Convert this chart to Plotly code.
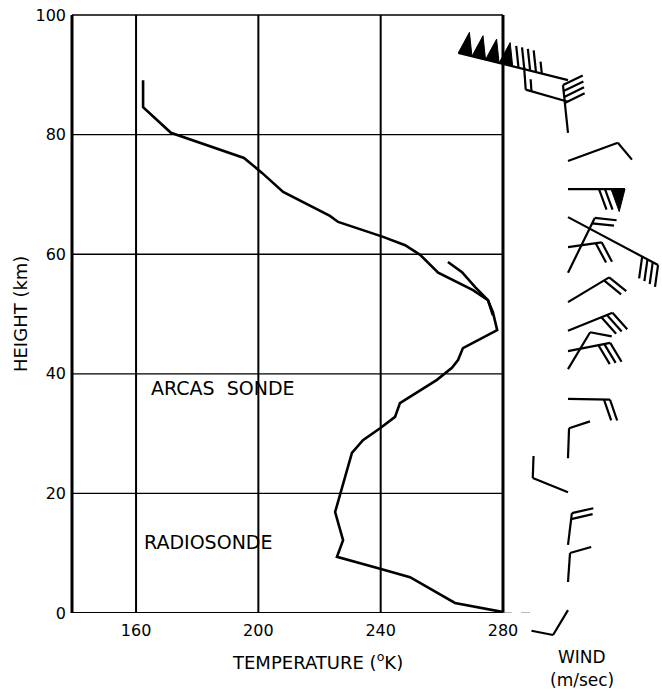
import math
import plotly.graph_objects as go

# temperature profile (ARCAS sonde above, radiosonde below)
height_km = [89.1, 84.6, 80.3, 78.6, 76.1, 73.6, 70.4, 66.4, 65.4, 62.9, 61.5, 59.9,
             56.9, 54.0, 52.3, 50.3, 47.3, 44.3, 42.3, 41.0, 39.0, 35.1, 32.8, 30.9,
             28.9, 26.8, 16.9, 12.2, 9.4, 7.4, 6.0, 1.7, 0.2]
temp_k = [162.3, 162.3, 171.4, 180.9, 195.3, 201.2, 208.1, 223.4, 226.1, 240.8, 248.0, 252.9,
          258.8, 270.2, 275.1, 276.7, 278.1, 266.9, 265.3, 263.3, 258.4, 246.3, 244.7, 239.8,
          234.2, 230.6, 225.1, 227.7, 225.7, 239.8, 249.6, 264.3, 279.7]

# short second trace near the stratopause
alt_height_km = [58.7, 57.0, 54.5, 52.3, 49.8]
alt_temp_k = [262.0, 266.6, 270.9, 275.1, 276.7]

# wind barbs: height, direction (deg, from north), speed (m/sec)
wind_height_km = [0.5, 5.2, 11.4, 20.2, 25.9, 35.8, 40.8, 43.8, 47.2, 52.0, 56.9, 61.2,
                  66.2, 70.9, 75.6, 80.3, 85.5, 89.1]
wind_dir_deg = [211, 4, 7, 292, 2, 91, 31, 79, 68, 59, 26, 82, 118, 90, 70, 354, 286, 284]
wind_speed_ms = [5, 5, 10, 5, 5, 10, 5, 15, 15, 10, 10, 10, 20, 35, 5, 20, 7.5, 122.5]

temp_ticks = [160, 200, 240, 280]
height_ticks = [0, 20, 40, 60, 80, 100]

# drawing style for the barbs (staff length in px, as drawn on the original)
staff_px = [29, 29, 32, 38, 30, 42, 43, 43, 48, 48, 61, 34, 102, 57, 53, 48, 44, 113]

W, H = 662, 692
PLOT_L, PLOT_T, PLOT_B = 70, 9, 643          # plot box in pixels
ML, MR, MT, MB = PLOT_L, 0, PLOT_T, H - PLOT_B
X_RANGE = [138.4, 332.0]
Y_LOW, Y_TOP = -5, 101
SX = (W - PLOT_L) / (X_RANGE[1] - X_RANGE[0])
SY = (PLOT_B - PLOT_T) / (Y_TOP - Y_LOW)
BASE_T = X_RANGE[0] + (568 - PLOT_L) / SX
FONT = "DejaVu Sans"


def paper_y(px):
    return (PLOT_B - px) / (PLOT_B - PLOT_T)


def to_data(h0, dx, dy):
    return BASE_T + dx / SX, h0 + dy / SY


# barb geometry, built in pixel space and mapped back through the axis scales
lines_x, lines_y, flag_x, flag_y = [], [], [], []
for h0, d, spd, L in zip(wind_height_km, wind_dir_deg, wind_speed_ms, staff_px):
    ux, uy = math.sin(math.radians(d)), math.cos(math.radians(d))
    c, s = math.cos(math.radians(70)), math.sin(math.radians(70))
    fx, fy = ux * c + uy * s, -ux * s + uy * c
    a, b = to_data(h0, 0, 0), to_data(h0, ux * L, uy * L)
    lines_x += [a[0], b[0], None]
    lines_y += [a[1], b[1], None]

    n_pen = int(spd // 25)
    rest = spd - 25 * n_pen
    n_barb = int(rest // 5)
    half = (rest - 5 * n_barb) >= 2.5
    pos = L
    for i in range(n_pen):
        outer = to_data(h0, ux * pos, uy * pos)
        inner = to_data(h0, ux * (pos - 14), uy * (pos - 14))
        apex = to_data(h0, ux * (pos - 14) + fx * 24, uy * (pos - 14) + fy * 24)
        for p in (outer, inner, apex, outer):
            flag_x.append(p[0]); flag_y.append(p[1])
        flag_x.append(None); flag_y.append(None)
        pos -= 14
    if n_pen:
        pos -= 6
    feathers = [22] * n_barb + ([12] if half else [])
    for fl in feathers:
        a = to_data(h0, ux * pos, uy * pos)
        b = to_data(h0, ux * pos + fx * fl, uy * pos + fy * fl)
        lines_x += [a[0], b[0], None]
        lines_y += [a[1], b[1], None]
        pos -= 6

fig = go.Figure()

fig.add_trace(go.Scatter(x=temp_k, y=height_km, mode="lines",
                         line=dict(color="black", width=2.6), hoverinfo="skip"))
fig.add_trace(go.Scatter(x=alt_temp_k, y=alt_height_km, mode="lines",
                         line=dict(color="black", width=2.6), hoverinfo="skip"))

fig.add_trace(go.Scatter(x=lines_x, y=lines_y, mode="lines", xaxis="x2", yaxis="y2",
                         line=dict(color="black", width=2.2), hoverinfo="skip"))
fig.add_trace(go.Scatter(x=flag_x, y=flag_y, mode="lines", fill="toself", fillcolor="black",
                         xaxis="x2", yaxis="y2", line=dict(color="black", width=1),
                         hoverinfo="skip"))

# frame and grid
shapes = []
x_left = X_RANGE[0] + 2 / SX
for t in temp_ticks:
    shapes.append(dict(type="line", xref="x", yref="y", x0=t, x1=t, y0=0, y1=100,
                       line=dict(color="black", width=3 if t == 280 else 2)))
for h in height_ticks[1:-1]:
    shapes.append(dict(type="line", xref="x", yref="y", x0=x_left, x1=280, y0=h, y1=h,
                       line=dict(color="black", width=1.3)))
shapes.append(dict(type="line", xref="x", yref="y", x0=x_left, x1=280, y0=100, y1=100,
                   line=dict(color="black", width=1.6)))
shapes.append(dict(type="line", xref="x", yref="y", x0=x_left, x1=280, y0=0, y1=0,
                   line=dict(color="black", width=2)))
shapes.append(dict(type="line", xref="x", yref="y", x0=280, x1=290, y0=0, y1=0,
                   line=dict(color="#777777", width=1.3, dash="dash")))
shapes.append(dict(type="line", xref="x", yref="y", x0=x_left, x1=x_left, y0=0, y1=100,
                   line=dict(color="black", width=3)))

wind_x = BASE_T + 14 / SX
annotations = [
    dict(text="ARCAS  SONDE", x=188.3, y=37.6, xref="x", yref="y", size=19),
    dict(text="RADIOSONDE", x=183.5, y=11.9, xref="x", yref="y", size=19),
    dict(text="TEMPERATURE (<sup>o</sup>K)", x=219.2, y=paper_y(661), xref="x", yref="paper", size=18),
    dict(text="WIND", x=wind_x, y=paper_y(657), xref="x", yref="paper", size=17),
    dict(text="(m/sec)", x=wind_x, y=paper_y(680), xref="x", yref="paper", size=17),
]
annotations = [dict(text=a["text"], x=a["x"], y=a["y"], xref=a["xref"], yref=a["yref"],
                    showarrow=False, xanchor="center", yanchor="middle",
                    font=dict(family=FONT, size=a["size"], color="black"))
               for a in annotations]
annotations.append(dict(text="HEIGHT (km)", textangle=-90, x=(20 - PLOT_L) / (W - PLOT_L),
                        y=50, xref="paper", yref="y", showarrow=False,
                        xanchor="center", yanchor="middle",
                        font=dict(family=FONT, size=18, color="black")))

y_dom0 = (0 - Y_LOW) / (Y_TOP - Y_LOW)
fig.update_layout(
    width=W, height=H,
    margin=dict(l=ML, r=MR, t=MT, b=MB),
    paper_bgcolor="white", plot_bgcolor="rgba(0,0,0,0)",
    showlegend=False,
    font=dict(family=FONT, size=16, color="black"),
    xaxis=dict(range=X_RANGE, domain=[0, 1], tickmode="array", tickvals=temp_ticks,
               showgrid=False, zeroline=False, showline=False, ticks="",
               ticklabelstandoff=6, tickfont=dict(size=16, color="black"), anchor="y",
               automargin=False, ticklabeloverflow="allow"),
    yaxis=dict(range=[0, Y_TOP], domain=[y_dom0, 1], tickmode="array", tickvals=height_ticks,
               showgrid=False, zeroline=False, showline=False, ticks="",
               ticklabelstandoff=3, tickfont=dict(size=16, color="black"), anchor="x",
               automargin=False, ticklabeloverflow="allow"),
    xaxis2=dict(range=X_RANGE, domain=[0, 1], visible=False, anchor="y2"),
    yaxis2=dict(range=[Y_LOW, Y_TOP], domain=[0, 1], visible=False, anchor="x2"),
    shapes=shapes,
    annotations=annotations,
)

# drop the page's default body margin so the figure sits at the window's corner
fig.write_html("out.html", config={"displayModeBar": False},
               post_script="document.body.style.margin = '0px';")
